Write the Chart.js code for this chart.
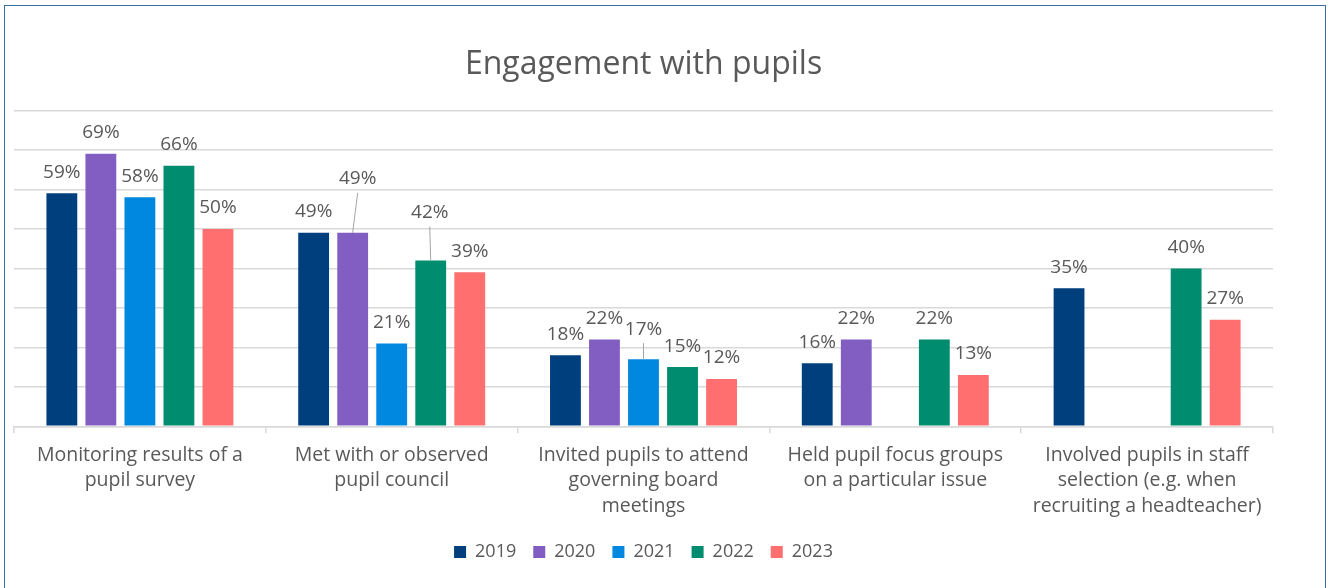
<!DOCTYPE html>
<html>
<head>
<meta charset="utf-8">
<title>Engagement with pupils</title>
<script src="https://cdn.jsdelivr.net/npm/chart.js@4/dist/chart.umd.min.js"></script>
<style>
    html, body { margin: 0; padding: 0; background: #fff; overflow: hidden; }
    #wrap { position: relative; width: 1335px; height: 588px; }
    #frame {
        position: absolute; left: 4px; top: 5px; width: 1322px; height: 600px;
        border: 1.5px solid #3a6fa6; box-sizing: border-box; pointer-events: none;
    }
    canvas { position: absolute; left: 0; top: 0; }
</style>
</head>
<body>
<div id="wrap">
    <canvas id="engagementChart" width="1335" height="588"></canvas>
    <div id="frame"></div>
</div>
<script>
// Survey categories (wrapped into lines for the x axis)
const categories = [
    ['Monitoring results of a', 'pupil survey'],
    ['Met with or observed', 'pupil council'],
    ['Invited pupils to attend', 'governing board', 'meetings'],
    ['Held pupil focus groups', 'on a particular issue'],
    ['Involved pupils in staff', 'selection (e.g. when', 'recruiting a headteacher)']
];

const years = ['2019', '2020', '2021', '2022', '2023'];

// Percentage of boards per year (null = not asked that year)
const values2019 = [59, 49, 18, 16, 35];
const values2020 = [69, 49, 22, 22, null];
const values2021 = [58, 21, 17, null, null];
const values2022 = [66, 42, 15, 22, 40];
const values2023 = [50, 39, 12, 13, 27];

const seriesValues = [values2019, values2020, values2021, values2022, values2023];
const seriesColors = ['#003f7d', '#835ec2', '#0088e0', '#008c6e', '#ff6f6f'];

const textColor = '#595959';
const gridColor = '#d9d9d9';
const fontFamily = "'Open Sans', Lato, sans-serif";

// Labels that sit further up with a leader line, keyed "dataset:index"
const labelNudges = {
    '1:1': { dx: 5, dy: -54 },
    '3:1': { dx: -1, dy: -48 },
    '2:2': { dx: 0, dy: -30 }
};

// Draws "NN%" above every bar, with leader lines for nudged labels
const valueLabels = {
    id: 'valueLabels',
    afterDatasetsDraw(chart) {
        const ctx = chart.ctx;
        ctx.save();
        ctx.font = `19px ${fontFamily}`;
        ctx.fillStyle = textColor;
        ctx.textAlign = 'center';
        ctx.textBaseline = 'middle';
        chart.data.datasets.forEach((ds, di) => {
            const meta = chart.getDatasetMeta(di);
            meta.data.forEach((bar, i) => {
                const v = ds.data[i];
                if (v === null || v === undefined) return;
                const nudge = labelNudges[`${di}:${i}`];
                const lx = bar.x + (nudge ? nudge.dx : 0);
                const ly = bar.y + (nudge ? nudge.dy : -21);
                if (nudge) {
                    ctx.strokeStyle = '#a6a6a6';
                    ctx.lineWidth = 1;
                    ctx.beginPath();
                    ctx.moveTo(lx, ly + 14);
                    ctx.lineTo(bar.x, bar.y);
                    ctx.stroke();
                }
                ctx.fillText(`${v}%`, lx, ly);
            });
        });
        ctx.restore();
    }
};

const datasets = years.map((year, i) => ({
    label: year,
    data: seriesValues[i],
    backgroundColor: seriesColors[i],
    borderWidth: 0,
    categoryPercentage: 0.775,
    barPercentage: 0.79
}));

new Chart(document.getElementById('engagementChart'), {
    type: 'bar',
    data: { labels: categories, datasets },
    options: {
        responsive: false,
        animation: false,
        layout: { padding: { left: 14, right: 62, top: 0, bottom: 17 } },
        plugins: {
            title: {
                display: true,
                text: 'Engagement with pupils',
                color: textColor,
                font: { family: fontFamily, size: 32, weight: 'normal' },
                padding: { top: 46, bottom: 26 }
            },
            legend: {
                position: 'bottom',
                labels: {
                    color: textColor,
                    font: { family: fontFamily, size: 18 },
                    boxWidth: 12,
                    boxHeight: 12,
                    padding: 17
                }
            },
            tooltip: { enabled: false }
        },
        scales: {
            x: {
                grid: {
                    display: true,
                    drawOnChartArea: false,
                    tickLength: 7,
                    color: gridColor,
                    lineWidth: 1.5
                },
                border: { display: true, color: gridColor, width: 1.5 },
                ticks: {
                    color: textColor,
                    font: { family: fontFamily, size: 19.5, lineHeight: 1.31 },
                    padding: 9,
                    maxRotation: 0,
                    autoSkip: false
                },
                afterFit: (scale) => { scale.height -= 2; }
            },
            y: {
                min: 0,
                max: 80,
                ticks: { display: false, stepSize: 10 },
                grid: { color: gridColor, lineWidth: 1.5, drawTicks: false },
                border: { display: false }
            }
        }
    },
    plugins: [valueLabels]
});
</script>
</body>
</html>
